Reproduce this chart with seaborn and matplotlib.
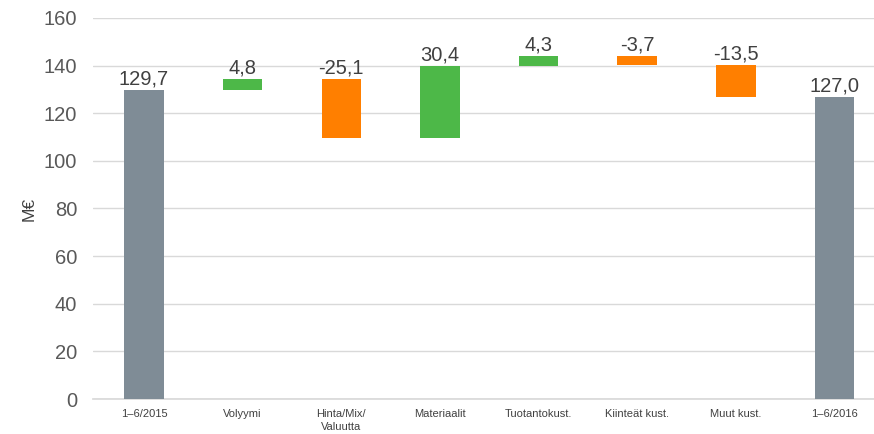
import numpy as np
import pandas as pd
import matplotlib as mpl
mpl.use('Agg')
import matplotlib.pyplot as plt
import seaborn as sns

categories = ['1\u20136/2015', 'Volyymi', 'Hinta/Mix/\nValuutta', 'Materiaalit',
              'Tuotantokust.', 'Kiinteät kust.', 'Muut kust.', '1\u20136/2016']
start_value = 129.7
changes = [4.8, -25.1, 30.4, 4.3, -3.7, -13.5]
end_value = 127.0
value_labels = ['129,7', '4,8', '-25,1', '30,4', '4,3', '-3,7', '-13,5', '127,0']

GRAY = '#7F8C96'
GREEN = '#4DB848'
ORANGE = '#FF7F00'

# waterfall bottoms / heights
bottoms, heights, colors = [0.0], [start_value], [GRAY]
level = start_value
for c in changes:
    new = level + c
    bottoms.append(min(level, new))
    heights.append(abs(c))
    colors.append(GREEN if c > 0 else ORANGE)
    level = new
bottoms.append(0.0)
heights.append(end_value)
colors.append(GRAY)

df = pd.DataFrame({'cat': categories, 'height': heights, 'bottom': bottoms})

sns.set_theme(style='white')
plt.rcParams['font.family'] = ['Liberation Sans', 'DejaVu Sans']

fig = plt.figure(figsize=(8.74, 4.34), dpi=100)
ax = fig.add_axes([0.106, 0.0806, 0.894, 0.878])

sns.barplot(data=df, x='cat', y='height', bottom=df['bottom'].values,
            width=0.4, color=GRAY, ax=ax, zorder=3)
for p, col in zip(ax.patches, colors):
    p.set_facecolor(col)
    p.set_edgecolor('none')

for i, (b, h, lab) in enumerate(zip(bottoms, heights, value_labels)):
    ax.text(i, b + h + 0.6, lab, ha='center', va='bottom',
            fontsize=14.5, color='#404040')

ax.set_ylim(0, 160)
ax.set_xlim(-0.52, 7.4)
ax.set_yticks(np.arange(0, 161, 20))
ax.yaxis.grid(True, color='#D9D9D9', linewidth=1)
ax.set_axisbelow(True)
for s in ['top', 'right', 'left']:
    ax.spines[s].set_visible(False)
ax.spines['bottom'].set_color('#D9D9D9')
ax.tick_params(axis='y', length=0, labelsize=14.5, labelcolor='#595959', pad=11)
ax.tick_params(axis='x', length=0, pad=7)
ax.set_xticks(range(len(categories)))
ax.set_xticklabels(categories, fontsize=8, color='#404040', linespacing=1.45)
ax.set_xlabel('')
ax.set_ylabel('M€', fontsize=12.5, color='#404040')
ax.yaxis.set_label_coords(-0.072, 0.5)

fig.savefig('out.png', dpi=100)
